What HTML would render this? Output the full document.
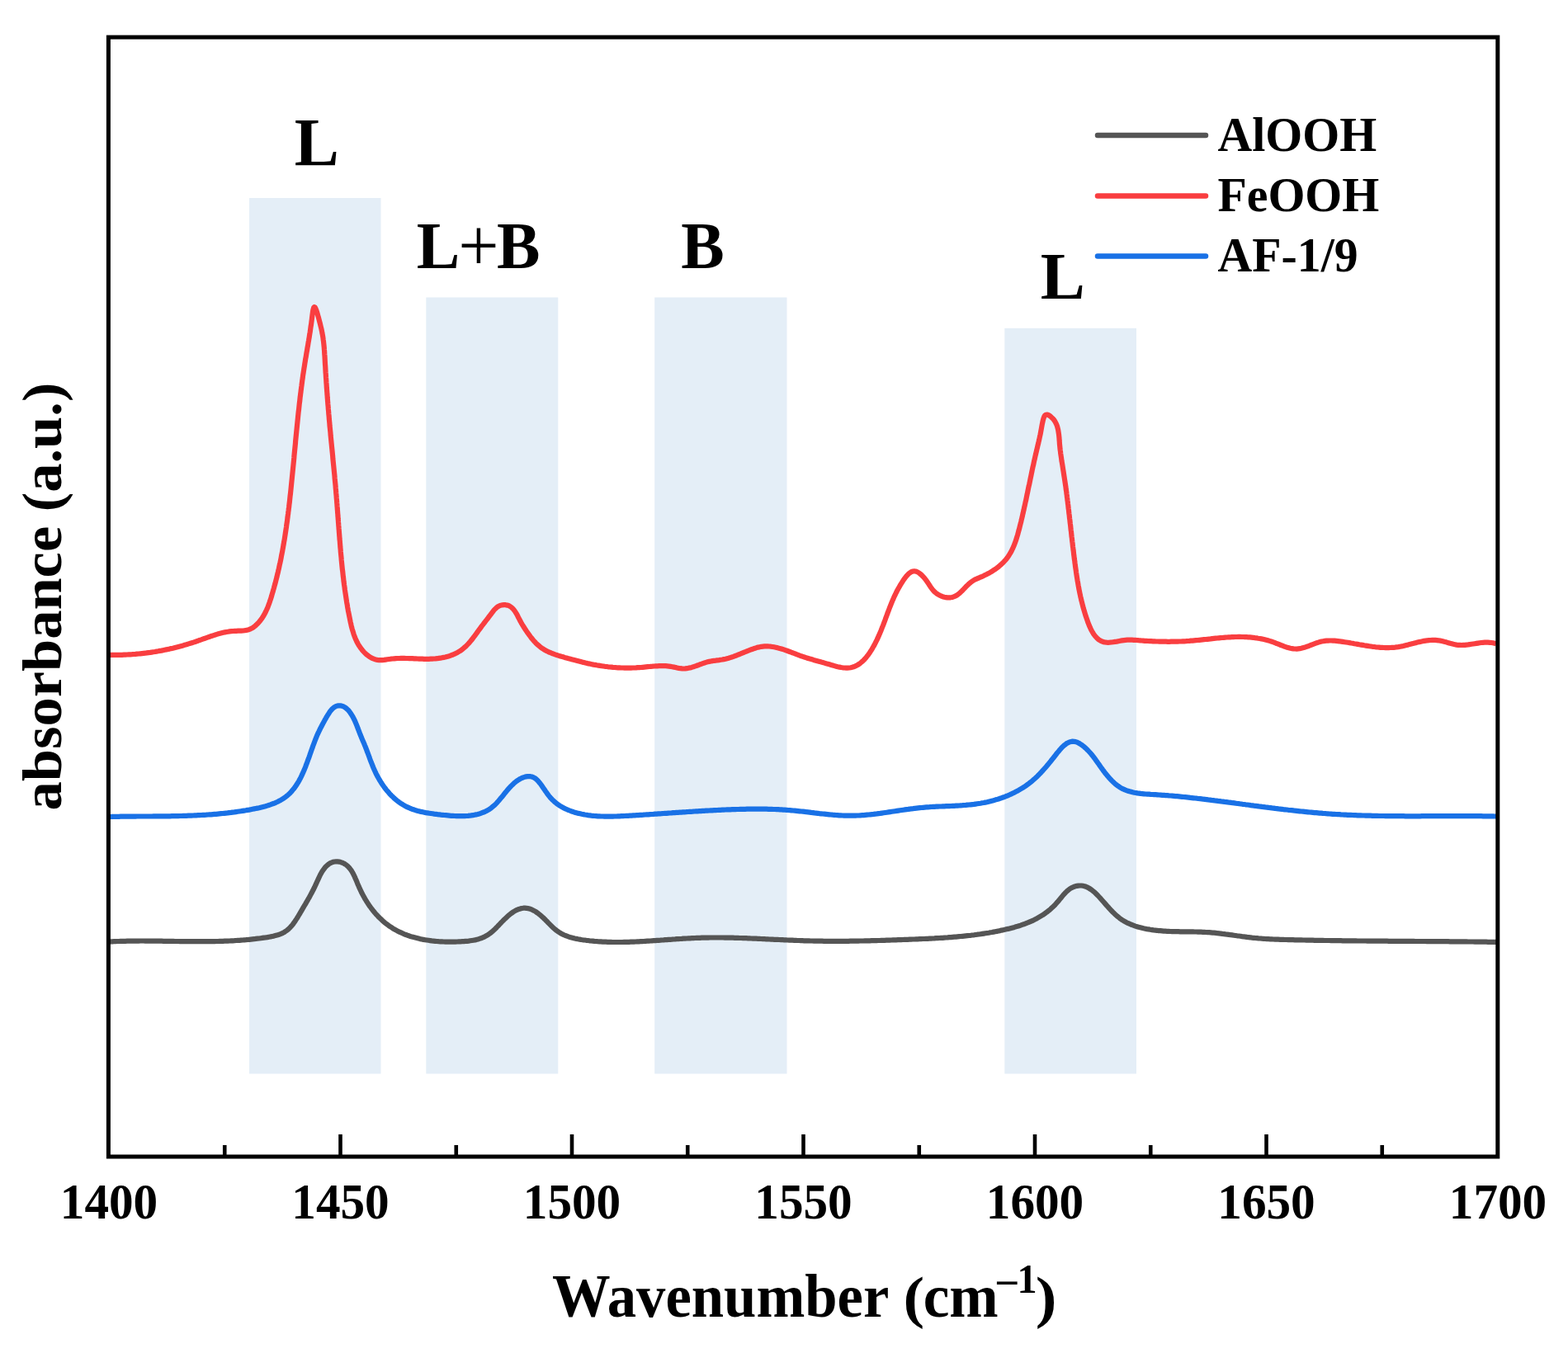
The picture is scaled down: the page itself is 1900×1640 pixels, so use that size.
<!DOCTYPE html>
<html><head><meta charset="utf-8"><title>absorbance vs wavenumber</title>
<style>
html,body{margin:0;padding:0;background:#fff;}
svg{display:block;}
text{font-family:"Liberation Serif","Times New Roman",serif;font-weight:bold;fill:#000;}
</style></head>
<body>
<svg xmlns="http://www.w3.org/2000/svg" width="1900" height="1640" viewBox="0 0 1900 1640">
<rect x="0" y="0" width="1900" height="1640" fill="#fff"/>
<g fill="#E4EEF7">
<rect x="302" y="240" width="159.5" height="1061.5"/>
<rect x="516.3" y="360.5" width="160" height="941"/>
<rect x="793.2" y="360.5" width="160.3" height="941"/>
<rect x="1217.3" y="397.8" width="159.7" height="903.7"/>
</g>
<g fill="none" stroke-width="6.2" stroke-linejoin="round" stroke-linecap="butt">
<path stroke="#555555" d="M132.0,1141.5L134.0,1141.4L136.0,1141.3L138.0,1141.2L140.0,1141.1L142.0,1141.0L144.0,1141.0L146.0,1140.9L148.0,1140.9L150.0,1140.8L152.0,1140.8L154.0,1140.7L156.0,1140.7L158.0,1140.6L160.0,1140.6L162.0,1140.6L164.0,1140.6L166.0,1140.6L168.0,1140.6L170.0,1140.5L172.0,1140.5L174.0,1140.5L176.0,1140.6L178.0,1140.6L180.0,1140.6L182.0,1140.6L184.0,1140.6L186.0,1140.6L188.0,1140.6L190.0,1140.7L192.0,1140.7L194.0,1140.7L196.0,1140.7L198.0,1140.8L200.0,1140.8L202.0,1140.8L204.0,1140.9L206.0,1140.9L208.0,1140.9L210.0,1140.9L212.0,1141.0L214.0,1141.0L216.0,1141.0L218.0,1141.1L220.1,1141.1L222.1,1141.1L224.1,1141.1L226.1,1141.2L228.1,1141.2L230.1,1141.2L232.1,1141.2L234.1,1141.2L236.1,1141.2L238.1,1141.2L240.1,1141.2L242.1,1141.2L244.1,1141.2L246.1,1141.2L248.1,1141.2L250.1,1141.2L252.1,1141.2L254.1,1141.2L256.1,1141.1L258.1,1141.1L260.1,1141.1L262.1,1141.0L264.1,1141.0L266.1,1140.9L268.1,1140.9L270.1,1140.8L272.1,1140.7L274.1,1140.7L276.1,1140.6L278.1,1140.5L280.1,1140.4L282.1,1140.3L284.1,1140.2L286.1,1140.0L288.1,1139.9L290.1,1139.8L292.1,1139.6L294.1,1139.5L296.1,1139.3L298.1,1139.2L300.1,1139.0L302.1,1138.8L304.1,1138.6L306.0,1138.4L308.0,1138.2L310.0,1137.9L312.0,1137.7L314.0,1137.5L316.0,1137.2L318.0,1136.9L320.0,1136.6L321.9,1136.4L323.9,1136.1L325.9,1135.7L327.9,1135.4L329.8,1135.0L331.8,1134.6L333.7,1134.1L335.6,1133.6L337.4,1133.0L339.3,1132.3L341.0,1131.6L342.8,1130.8L344.5,1129.9L346.1,1128.8L347.7,1127.7L349.2,1126.5L350.6,1125.1L352.0,1123.7L353.4,1122.2L354.7,1120.6L355.9,1118.9L357.2,1117.2L358.3,1115.4L359.5,1113.6L360.6,1111.8L361.7,1110.0L362.8,1108.2L363.8,1106.4L364.9,1104.6L365.9,1102.9L366.9,1101.1L367.9,1099.4L368.9,1097.7L369.9,1096.1L370.9,1094.4L371.8,1092.8L372.8,1091.1L373.7,1089.4L374.7,1087.8L375.6,1086.1L376.5,1084.4L377.4,1082.7L378.3,1081.0L379.2,1079.3L380.1,1077.5L381.0,1075.7L381.8,1073.9L382.7,1072.1L383.5,1070.2L384.4,1068.2L385.3,1066.3L386.2,1064.4L387.1,1062.4L388.0,1060.5L389.0,1058.7L390.1,1056.8L391.2,1055.1L392.5,1053.4L393.7,1051.7L395.1,1050.2L396.6,1048.8L398.2,1047.5L399.8,1046.4L401.6,1045.6L403.4,1044.9L405.3,1044.5L407.2,1044.3L409.1,1044.4L411.0,1044.6L412.9,1045.1L414.7,1045.7L416.5,1046.5L418.2,1047.5L419.7,1048.5L421.2,1049.8L422.5,1051.1L423.8,1052.6L425.0,1054.1L426.1,1055.8L427.1,1057.5L428.1,1059.3L429.0,1061.1L429.9,1063.0L430.7,1065.0L431.6,1066.9L432.4,1068.9L433.2,1070.9L434.1,1072.9L434.9,1074.9L435.8,1076.8L436.7,1078.8L437.6,1080.7L438.5,1082.6L439.5,1084.4L440.5,1086.3L441.5,1088.1L442.5,1089.9L443.6,1091.6L444.7,1093.4L445.8,1095.1L446.9,1096.8L448.0,1098.4L449.2,1100.0L450.4,1101.6L451.6,1103.2L452.9,1104.8L454.1,1106.3L455.4,1107.8L456.7,1109.2L458.1,1110.7L459.4,1112.0L460.8,1113.4L462.3,1114.7L463.7,1116.1L465.1,1117.3L466.6,1118.6L468.1,1119.8L469.7,1120.9L471.2,1122.1L472.8,1123.2L474.4,1124.2L476.1,1125.3L477.7,1126.3L479.4,1127.2L481.1,1128.2L482.8,1129.1L484.6,1129.9L486.4,1130.7L488.2,1131.5L490.0,1132.3L491.8,1133.0L493.7,1133.7L495.5,1134.3L497.4,1135.0L499.3,1135.6L501.3,1136.1L503.2,1136.6L505.2,1137.1L507.1,1137.6L509.1,1138.1L511.1,1138.5L513.1,1138.9L515.1,1139.2L517.1,1139.5L519.1,1139.8L521.2,1140.1L523.2,1140.4L525.3,1140.6L527.3,1140.8L529.4,1141.0L531.4,1141.2L533.5,1141.3L535.5,1141.4L537.6,1141.5L539.6,1141.6L541.7,1141.6L543.7,1141.6L545.8,1141.7L547.8,1141.7L549.9,1141.6L551.9,1141.6L553.9,1141.5L556.0,1141.4L558.0,1141.3L560.0,1141.2L562.0,1141.1L563.9,1140.9L565.9,1140.8L567.9,1140.6L569.8,1140.3L571.7,1140.0L573.6,1139.7L575.5,1139.4L577.3,1138.9L579.2,1138.5L581.0,1137.9L582.8,1137.3L584.5,1136.6L586.2,1135.9L587.9,1135.0L589.6,1134.1L591.2,1133.1L592.8,1132.0L594.4,1130.9L595.9,1129.6L597.4,1128.3L598.9,1126.9L600.4,1125.5L601.9,1124.0L603.3,1122.5L604.8,1121.0L606.3,1119.4L607.7,1117.9L609.2,1116.4L610.7,1114.8L612.2,1113.4L613.8,1111.9L615.3,1110.5L616.9,1109.1L618.5,1107.8L620.2,1106.6L621.9,1105.4L623.6,1104.4L625.3,1103.4L627.1,1102.6L628.8,1101.9L630.6,1101.4L632.4,1101.0L634.3,1100.7L636.1,1100.6L637.9,1100.8L639.8,1101.1L641.6,1101.5L643.5,1102.2L645.3,1103.0L647.1,1103.9L648.9,1104.9L650.6,1106.1L652.3,1107.3L653.9,1108.6L655.5,1109.9L657.0,1111.3L658.6,1112.7L660.1,1114.2L661.5,1115.7L663.0,1117.1L664.4,1118.6L665.9,1120.1L667.4,1121.6L668.8,1123.0L670.3,1124.4L671.8,1125.8L673.3,1127.0L674.9,1128.3L676.5,1129.4L678.2,1130.5L679.9,1131.5L681.6,1132.4L683.3,1133.2L685.1,1134.0L687.0,1134.7L688.8,1135.4L690.7,1136.0L692.6,1136.5L694.5,1137.0L696.5,1137.5L698.4,1137.9L700.4,1138.3L702.3,1138.6L704.3,1139.0L706.3,1139.3L708.3,1139.5L710.3,1139.8L712.3,1140.0L714.3,1140.3L716.3,1140.5L718.3,1140.7L720.3,1140.9L722.2,1141.0L724.2,1141.2L726.2,1141.3L728.2,1141.4L730.2,1141.6L732.2,1141.7L734.2,1141.7L736.2,1141.8L738.2,1141.9L740.2,1141.9L742.2,1142.0L744.2,1142.0L746.2,1142.0L748.2,1142.0L750.2,1142.0L752.2,1142.0L754.2,1142.0L756.2,1141.9L758.2,1141.9L760.2,1141.8L762.2,1141.8L764.1,1141.7L766.1,1141.6L768.1,1141.6L770.1,1141.5L772.1,1141.4L774.1,1141.3L776.1,1141.2L778.1,1141.1L780.1,1141.0L782.1,1140.8L784.1,1140.7L786.1,1140.6L788.1,1140.5L790.1,1140.3L792.1,1140.2L794.1,1140.1L796.1,1139.9L798.1,1139.8L800.1,1139.7L802.1,1139.5L804.1,1139.4L806.1,1139.2L808.1,1139.1L810.1,1138.9L812.1,1138.8L814.1,1138.7L816.1,1138.5L818.1,1138.4L820.1,1138.2L822.1,1138.1L824.1,1138.0L826.1,1137.9L828.2,1137.7L830.2,1137.6L832.2,1137.5L834.2,1137.4L836.2,1137.3L838.2,1137.2L840.2,1137.1L842.2,1137.0L844.2,1136.9L846.2,1136.9L848.2,1136.8L850.2,1136.7L852.2,1136.7L854.2,1136.6L856.2,1136.6L858.2,1136.6L860.2,1136.5L862.2,1136.5L864.2,1136.5L866.2,1136.5L868.2,1136.5L870.2,1136.5L872.2,1136.5L874.2,1136.5L876.2,1136.5L878.2,1136.6L880.2,1136.6L882.2,1136.6L884.2,1136.7L886.2,1136.7L888.2,1136.7L890.2,1136.8L892.3,1136.9L894.3,1136.9L896.3,1137.0L898.3,1137.0L900.3,1137.1L902.3,1137.2L904.3,1137.2L906.3,1137.3L908.3,1137.4L910.3,1137.5L912.3,1137.6L914.3,1137.6L916.3,1137.7L918.3,1137.8L920.3,1137.9L922.3,1138.0L924.3,1138.1L926.3,1138.2L928.3,1138.3L930.3,1138.4L932.3,1138.5L934.3,1138.6L936.3,1138.7L938.3,1138.8L940.3,1138.8L942.3,1138.9L944.3,1139.0L946.3,1139.1L948.3,1139.2L950.3,1139.3L952.3,1139.4L954.3,1139.5L956.3,1139.6L958.3,1139.7L960.3,1139.7L962.3,1139.8L964.3,1139.9L966.3,1140.0L968.3,1140.0L970.3,1140.1L972.3,1140.2L974.3,1140.3L976.3,1140.3L978.3,1140.4L980.2,1140.4L982.2,1140.5L984.2,1140.5L986.2,1140.6L988.2,1140.6L990.2,1140.6L992.2,1140.7L994.2,1140.7L996.2,1140.7L998.2,1140.8L1000.2,1140.8L1002.2,1140.8L1004.2,1140.8L1006.2,1140.8L1008.1,1140.8L1010.1,1140.8L1012.1,1140.8L1014.1,1140.8L1016.1,1140.8L1018.1,1140.8L1020.1,1140.8L1022.1,1140.8L1024.1,1140.8L1026.1,1140.8L1028.1,1140.8L1030.1,1140.7L1032.1,1140.7L1034.0,1140.7L1036.0,1140.7L1038.0,1140.6L1040.0,1140.6L1042.0,1140.5L1044.0,1140.5L1046.0,1140.5L1048.0,1140.4L1050.0,1140.4L1052.0,1140.3L1054.0,1140.3L1056.0,1140.2L1058.0,1140.2L1060.0,1140.1L1062.0,1140.1L1064.0,1140.0L1066.0,1140.0L1068.0,1139.9L1070.0,1139.8L1072.0,1139.8L1074.0,1139.7L1076.0,1139.7L1078.0,1139.6L1080.0,1139.5L1082.0,1139.4L1084.0,1139.4L1086.0,1139.3L1088.0,1139.2L1090.0,1139.2L1092.0,1139.1L1094.0,1139.0L1096.0,1138.9L1098.0,1138.9L1100.0,1138.8L1102.0,1138.7L1104.0,1138.6L1106.0,1138.5L1108.0,1138.5L1110.1,1138.4L1112.1,1138.3L1114.1,1138.2L1116.1,1138.1L1118.1,1138.0L1120.1,1138.0L1122.1,1137.9L1124.1,1137.8L1126.2,1137.7L1128.2,1137.6L1130.2,1137.5L1132.2,1137.4L1134.2,1137.2L1136.2,1137.1L1138.2,1137.0L1140.2,1136.9L1142.3,1136.8L1144.3,1136.6L1146.3,1136.5L1148.3,1136.4L1150.3,1136.2L1152.3,1136.1L1154.3,1135.9L1156.3,1135.7L1158.3,1135.6L1160.3,1135.4L1162.3,1135.2L1164.3,1135.0L1166.3,1134.8L1168.3,1134.6L1170.3,1134.4L1172.3,1134.2L1174.3,1134.0L1176.3,1133.8L1178.3,1133.5L1180.3,1133.3L1182.3,1133.0L1184.3,1132.7L1186.2,1132.5L1188.2,1132.2L1190.2,1131.9L1192.2,1131.6L1194.1,1131.3L1196.1,1131.0L1198.1,1130.7L1200.1,1130.3L1202.0,1130.0L1204.0,1129.6L1205.9,1129.2L1207.9,1128.9L1209.8,1128.5L1211.8,1128.1L1213.7,1127.6L1215.7,1127.2L1217.6,1126.8L1219.6,1126.3L1221.5,1125.9L1223.4,1125.4L1225.3,1124.9L1227.3,1124.4L1229.2,1123.9L1231.1,1123.3L1233.0,1122.8L1234.9,1122.2L1236.7,1121.6L1238.6,1120.9L1240.5,1120.3L1242.3,1119.6L1244.1,1118.9L1246.0,1118.2L1247.8,1117.4L1249.6,1116.6L1251.4,1115.8L1253.1,1115.0L1254.9,1114.1L1256.6,1113.2L1258.3,1112.2L1260.0,1111.2L1261.7,1110.2L1263.4,1109.2L1265.0,1108.1L1266.6,1106.9L1268.2,1105.8L1269.8,1104.5L1271.4,1103.3L1272.9,1102.0L1274.4,1100.6L1275.9,1099.2L1277.4,1097.8L1278.8,1096.3L1280.2,1094.7L1281.6,1093.2L1283.0,1091.5L1284.3,1089.9L1285.7,1088.2L1287.0,1086.6L1288.4,1084.9L1289.8,1083.4L1291.2,1081.9L1292.7,1080.4L1294.2,1079.1L1295.8,1077.8L1297.4,1076.7L1299.2,1075.8L1301.0,1075.0L1302.8,1074.3L1304.8,1073.9L1306.7,1073.6L1308.6,1073.5L1310.5,1073.5L1312.4,1073.8L1314.2,1074.2L1316.0,1074.8L1317.7,1075.6L1319.4,1076.5L1321.0,1077.5L1322.7,1078.6L1324.2,1079.8L1325.8,1081.1L1327.3,1082.5L1328.8,1084.0L1330.3,1085.5L1331.7,1087.0L1333.2,1088.6L1334.6,1090.2L1335.9,1091.7L1337.3,1093.3L1338.7,1094.9L1340.0,1096.4L1341.3,1097.9L1342.7,1099.4L1344.0,1100.9L1345.4,1102.4L1346.7,1103.8L1348.1,1105.2L1349.5,1106.6L1350.9,1107.9L1352.3,1109.2L1353.7,1110.5L1355.2,1111.7L1356.7,1112.9L1358.2,1114.0L1359.8,1115.1L1361.5,1116.1L1363.1,1117.1L1364.8,1118.0L1366.6,1118.9L1368.4,1119.7L1370.2,1120.5L1372.0,1121.2L1373.9,1121.9L1375.8,1122.6L1377.8,1123.2L1379.7,1123.8L1381.7,1124.3L1383.7,1124.8L1385.7,1125.3L1387.7,1125.7L1389.8,1126.1L1391.8,1126.4L1393.8,1126.8L1395.9,1127.1L1397.9,1127.4L1400.0,1127.6L1402.0,1127.8L1404.0,1128.1L1406.0,1128.2L1408.1,1128.4L1410.1,1128.6L1412.1,1128.7L1414.1,1128.8L1416.1,1128.9L1418.1,1129.0L1420.1,1129.1L1422.0,1129.1L1424.0,1129.2L1426.0,1129.2L1428.0,1129.2L1430.0,1129.3L1431.9,1129.3L1433.9,1129.3L1435.9,1129.3L1437.8,1129.3L1439.8,1129.4L1441.7,1129.4L1443.7,1129.4L1445.7,1129.4L1447.6,1129.5L1449.6,1129.5L1451.6,1129.6L1453.5,1129.6L1455.5,1129.7L1457.4,1129.8L1459.4,1129.9L1461.4,1130.0L1463.3,1130.1L1465.3,1130.2L1467.3,1130.4L1469.3,1130.6L1471.2,1130.7L1473.2,1130.9L1475.2,1131.2L1477.2,1131.4L1479.2,1131.6L1481.2,1131.9L1483.2,1132.1L1485.1,1132.4L1487.1,1132.6L1489.1,1132.9L1491.1,1133.2L1493.1,1133.4L1495.1,1133.7L1497.1,1134.0L1499.1,1134.3L1501.1,1134.5L1503.1,1134.8L1505.1,1135.1L1507.1,1135.3L1509.1,1135.6L1511.1,1135.9L1513.1,1136.1L1515.1,1136.3L1517.1,1136.6L1519.1,1136.8L1521.1,1137.0L1523.1,1137.2L1525.1,1137.4L1527.1,1137.5L1529.1,1137.7L1531.0,1137.8L1533.0,1138.0L1535.0,1138.1L1537.0,1138.2L1539.0,1138.3L1541.0,1138.4L1543.0,1138.5L1545.0,1138.6L1547.0,1138.6L1549.0,1138.7L1551.0,1138.8L1553.0,1138.9L1555.0,1138.9L1557.0,1139.0L1559.0,1139.0L1561.0,1139.1L1562.9,1139.1L1564.9,1139.2L1566.9,1139.2L1568.9,1139.3L1570.9,1139.3L1572.9,1139.4L1574.9,1139.4L1576.9,1139.4L1578.9,1139.5L1580.9,1139.5L1582.9,1139.6L1584.9,1139.6L1586.9,1139.6L1588.9,1139.7L1590.9,1139.7L1592.9,1139.8L1594.9,1139.8L1596.9,1139.8L1598.9,1139.9L1600.9,1139.9L1602.9,1139.9L1604.9,1140.0L1606.9,1140.0L1608.9,1140.0L1610.9,1140.0L1612.9,1140.1L1614.9,1140.1L1616.9,1140.1L1618.9,1140.2L1620.9,1140.2L1622.9,1140.2L1624.9,1140.2L1626.9,1140.3L1628.9,1140.3L1630.9,1140.3L1632.9,1140.3L1634.9,1140.4L1636.9,1140.4L1638.9,1140.4L1640.9,1140.4L1642.9,1140.4L1644.9,1140.5L1646.9,1140.5L1648.9,1140.5L1650.9,1140.5L1652.9,1140.5L1654.9,1140.5L1656.9,1140.6L1658.9,1140.6L1660.9,1140.6L1662.9,1140.6L1664.9,1140.6L1666.9,1140.6L1668.9,1140.7L1670.9,1140.7L1672.9,1140.7L1674.9,1140.7L1676.9,1140.7L1678.9,1140.7L1680.9,1140.7L1682.9,1140.8L1684.9,1140.8L1686.9,1140.8L1688.9,1140.8L1690.9,1140.8L1692.9,1140.8L1694.9,1140.8L1696.9,1140.8L1698.9,1140.9L1700.9,1140.9L1702.9,1140.9L1704.9,1140.9L1706.9,1140.9L1708.9,1140.9L1711.0,1140.9L1713.0,1140.9L1715.0,1141.0L1717.0,1141.0L1719.0,1141.0L1721.0,1141.0L1723.0,1141.0L1725.0,1141.0L1727.0,1141.0L1729.0,1141.1L1731.0,1141.1L1733.0,1141.1L1735.0,1141.1L1737.0,1141.1L1739.0,1141.1L1741.0,1141.1L1743.0,1141.1L1745.0,1141.2L1747.0,1141.2L1749.0,1141.2L1751.0,1141.2L1753.0,1141.2L1755.0,1141.2L1757.0,1141.3L1759.0,1141.3L1761.0,1141.3L1763.0,1141.3L1765.0,1141.3L1767.0,1141.3L1769.0,1141.4L1771.0,1141.4L1773.0,1141.4L1775.0,1141.4L1777.0,1141.4L1779.0,1141.5L1781.0,1141.5L1783.0,1141.5L1785.0,1141.5L1787.0,1141.6L1789.0,1141.6L1791.0,1141.6L1793.0,1141.6L1795.0,1141.6L1797.0,1141.7L1799.0,1141.7L1801.0,1141.7L1803.0,1141.8L1805.0,1141.8L1807.0,1141.8L1809.0,1141.8L1811.0,1141.9L1813.0,1141.9"/>
<path stroke="#1971E6" d="M132.0,990.0L134.0,990.0L136.0,989.9L138.0,989.9L140.1,989.8L142.1,989.8L144.1,989.8L146.1,989.7L148.1,989.7L150.1,989.7L152.1,989.7L154.1,989.6L156.1,989.6L158.1,989.6L160.1,989.6L162.1,989.6L164.1,989.6L166.1,989.5L168.1,989.5L170.1,989.5L172.1,989.5L174.1,989.5L176.1,989.5L178.1,989.5L180.1,989.5L182.1,989.5L184.1,989.5L186.1,989.4L188.1,989.4L190.1,989.4L192.1,989.4L194.1,989.4L196.1,989.4L198.1,989.4L200.1,989.3L202.1,989.3L204.1,989.3L206.1,989.3L208.1,989.2L210.1,989.2L212.0,989.2L214.0,989.1L216.0,989.1L218.0,989.0L220.0,989.0L222.0,988.9L224.0,988.9L226.0,988.8L228.0,988.7L230.0,988.7L232.0,988.6L233.9,988.5L235.9,988.4L237.9,988.3L239.9,988.2L241.9,988.1L243.9,988.0L245.9,987.9L247.9,987.8L249.9,987.7L251.9,987.5L253.9,987.4L255.9,987.3L257.9,987.1L259.9,986.9L261.9,986.8L263.9,986.6L265.8,986.4L267.8,986.2L269.8,986.0L271.8,985.8L273.8,985.6L275.8,985.4L277.8,985.1L279.8,984.9L281.8,984.6L283.9,984.4L285.9,984.1L287.9,983.8L289.9,983.5L291.9,983.2L293.9,982.9L295.9,982.6L297.9,982.3L299.9,981.9L301.9,981.6L303.9,981.2L305.9,980.8L308.0,980.4L310.0,980.0L312.0,979.6L314.0,979.2L315.9,978.7L317.9,978.2L319.9,977.7L321.8,977.2L323.8,976.6L325.7,976.0L327.6,975.4L329.4,974.7L331.3,974.0L333.1,973.3L334.9,972.5L336.6,971.7L338.3,970.8L340.0,969.9L341.7,968.9L343.3,967.9L344.9,966.8L346.4,965.7L347.9,964.5L349.3,963.3L350.7,962.0L352.0,960.7L353.3,959.3L354.5,957.8L355.8,956.3L356.9,954.8L358.1,953.2L359.2,951.6L360.2,949.9L361.3,948.2L362.3,946.5L363.2,944.7L364.2,942.9L365.1,941.1L366.0,939.2L366.8,937.3L367.7,935.4L368.5,933.5L369.3,931.6L370.1,929.6L370.8,927.7L371.6,925.7L372.3,923.8L373.0,921.8L373.7,919.8L374.5,917.8L375.2,915.8L375.8,913.9L376.5,911.9L377.2,909.9L377.9,908.0L378.6,906.1L379.3,904.1L380.0,902.2L380.7,900.4L381.4,898.5L382.1,896.7L382.8,894.9L383.5,893.1L384.2,891.3L385.0,889.6L385.8,887.9L386.6,886.3L387.4,884.6L388.2,882.9L389.1,881.2L390.0,879.5L390.9,877.8L391.8,876.1L392.8,874.3L393.8,872.4L394.9,870.6L396.0,868.6L397.2,866.7L398.4,864.8L399.6,862.9L400.9,861.2L402.3,859.6L403.8,858.2L405.3,857.1L406.9,856.2L408.6,855.6L410.3,855.3L412.1,855.3L413.9,855.6L415.6,856.2L417.4,857.0L419.0,858.1L420.5,859.4L422.0,860.8L423.4,862.5L424.6,864.2L425.8,866.0L426.9,867.8L427.9,869.6L428.9,871.5L429.8,873.3L430.6,875.2L431.4,877.1L432.2,879.0L432.9,880.9L433.6,882.8L434.4,884.7L435.1,886.6L435.8,888.5L436.5,890.3L437.3,892.2L438.0,894.0L438.8,895.9L439.6,897.7L440.4,899.5L441.2,901.4L441.9,903.2L442.7,905.0L443.4,906.9L444.1,908.7L444.8,910.6L445.5,912.4L446.2,914.3L446.9,916.1L447.6,918.0L448.2,919.8L448.9,921.7L449.6,923.5L450.4,925.4L451.1,927.2L451.8,929.1L452.6,930.9L453.4,932.7L454.2,934.5L455.1,936.4L455.9,938.2L456.9,940.0L457.8,941.8L458.8,943.5L459.8,945.3L460.9,947.0L462.0,948.8L463.1,950.5L464.3,952.2L465.4,953.8L466.7,955.5L467.9,957.1L469.2,958.7L470.6,960.2L471.9,961.8L473.3,963.3L474.7,964.7L476.2,966.1L477.6,967.5L479.2,968.8L480.7,970.1L482.2,971.3L483.8,972.5L485.4,973.6L487.1,974.7L488.7,975.7L490.4,976.7L492.1,977.6L493.8,978.4L495.6,979.2L497.4,980.0L499.2,980.7L501.0,981.3L502.8,981.9L504.7,982.5L506.5,983.0L508.4,983.4L510.3,983.9L512.2,984.3L514.2,984.7L516.1,985.1L518.1,985.4L520.1,985.7L522.1,986.0L524.1,986.3L526.1,986.6L528.1,986.8L530.2,987.1L532.2,987.3L534.3,987.6L536.3,987.8L538.4,988.0L540.5,988.2L542.6,988.4L544.6,988.6L546.7,988.8L548.8,988.9L550.9,989.0L553.0,989.1L555.0,989.2L557.1,989.2L559.1,989.2L561.2,989.2L563.2,989.1L565.2,989.0L567.2,988.9L569.2,988.7L571.2,988.4L573.1,988.2L575.0,987.8L576.9,987.4L578.8,987.0L580.6,986.5L582.5,985.9L584.2,985.2L586.0,984.5L587.7,983.8L589.4,982.9L591.1,982.0L592.7,981.1L594.3,980.0L595.8,978.8L597.4,977.6L598.8,976.3L600.3,975.0L601.7,973.5L603.0,972.0L604.4,970.5L605.7,968.9L607.0,967.3L608.4,965.7L609.7,964.1L611.0,962.4L612.3,960.8L613.7,959.1L615.0,957.5L616.4,955.9L617.8,954.4L619.2,952.9L620.7,951.4L622.2,950.0L623.7,948.6L625.3,947.3L627.0,946.1L628.7,945.0L630.4,944.0L632.2,943.2L634.0,942.4L635.7,941.8L637.5,941.4L639.3,941.1L641.1,941.0L642.8,941.2L644.4,941.5L646.0,942.1L647.6,942.9L649.1,943.9L650.5,945.1L651.9,946.5L653.2,948.1L654.6,949.7L655.9,951.5L657.1,953.3L658.4,955.2L659.7,957.1L661.0,959.0L662.3,960.8L663.6,962.7L664.9,964.4L666.3,966.1L667.7,967.7L669.1,969.2L670.6,970.6L672.1,972.0L673.6,973.2L675.2,974.4L676.7,975.5L678.3,976.6L680.0,977.6L681.6,978.5L683.3,979.4L685.0,980.3L686.7,981.0L688.5,981.8L690.2,982.5L692.0,983.2L693.8,983.8L695.6,984.4L697.4,984.9L699.3,985.4L701.1,985.9L703.0,986.3L704.9,986.8L706.8,987.1L708.7,987.5L710.6,987.8L712.5,988.1L714.5,988.3L716.4,988.6L718.4,988.8L720.4,989.0L722.4,989.1L724.4,989.3L726.4,989.4L728.4,989.5L730.4,989.5L732.4,989.6L734.5,989.6L736.5,989.6L738.6,989.6L740.6,989.6L742.7,989.6L744.7,989.5L746.8,989.5L748.8,989.4L750.9,989.3L752.9,989.2L755.0,989.1L757.1,989.0L759.1,988.9L761.2,988.8L763.2,988.7L765.3,988.6L767.3,988.4L769.4,988.3L771.4,988.2L773.5,988.1L775.5,987.9L777.5,987.8L779.6,987.7L781.6,987.5L783.6,987.4L785.7,987.3L787.7,987.1L789.7,987.0L791.7,986.9L793.7,986.7L795.7,986.6L797.7,986.4L799.7,986.3L801.7,986.2L803.7,986.0L805.7,985.9L807.7,985.8L809.7,985.6L811.7,985.5L813.7,985.4L815.7,985.2L817.6,985.1L819.6,984.9L821.6,984.8L823.6,984.7L825.6,984.6L827.6,984.4L829.5,984.3L831.5,984.2L833.5,984.0L835.5,983.9L837.4,983.8L839.4,983.7L841.4,983.5L843.4,983.4L845.3,983.3L847.3,983.2L849.3,983.1L851.3,982.9L853.2,982.8L855.2,982.7L857.2,982.6L859.2,982.5L861.2,982.4L863.1,982.3L865.1,982.2L867.1,982.1L869.1,982.0L871.1,981.9L873.0,981.8L875.0,981.7L877.0,981.6L879.0,981.5L881.0,981.4L883.0,981.4L885.0,981.3L887.0,981.2L889.0,981.1L891.0,981.1L893.0,981.0L895.0,981.0L897.0,980.9L899.0,980.8L901.0,980.8L903.0,980.8L905.0,980.7L907.0,980.7L909.0,980.7L911.0,980.6L913.0,980.6L915.0,980.6L917.0,980.6L919.0,980.6L921.0,980.6L923.0,980.7L925.0,980.7L927.0,980.7L929.0,980.7L931.1,980.8L933.1,980.8L935.1,980.9L937.1,981.0L939.1,981.0L941.1,981.1L943.1,981.2L945.1,981.3L947.1,981.4L949.1,981.6L951.1,981.7L953.1,981.8L955.1,982.0L957.1,982.1L959.1,982.3L961.1,982.5L963.1,982.7L965.1,982.9L967.1,983.1L969.1,983.3L971.1,983.5L973.1,983.7L975.1,983.9L977.1,984.2L979.1,984.4L981.1,984.6L983.0,984.9L985.0,985.1L987.0,985.4L989.0,985.6L991.0,985.8L993.0,986.1L995.0,986.3L997.0,986.5L998.9,986.7L1000.9,986.9L1002.9,987.1L1004.9,987.3L1006.9,987.5L1008.9,987.7L1010.9,987.8L1012.8,988.0L1014.8,988.1L1016.8,988.3L1018.8,988.4L1020.8,988.5L1022.8,988.6L1024.8,988.6L1026.7,988.7L1028.7,988.7L1030.7,988.7L1032.7,988.7L1034.7,988.7L1036.7,988.6L1038.7,988.5L1040.7,988.5L1042.7,988.3L1044.7,988.2L1046.7,988.1L1048.6,987.9L1050.6,987.7L1052.6,987.5L1054.6,987.3L1056.6,987.1L1058.6,986.9L1060.6,986.6L1062.6,986.4L1064.6,986.1L1066.6,985.9L1068.6,985.6L1070.6,985.3L1072.6,985.0L1074.6,984.7L1076.6,984.4L1078.6,984.1L1080.6,983.8L1082.6,983.5L1084.6,983.2L1086.6,982.9L1088.6,982.6L1090.6,982.3L1092.6,982.0L1094.6,981.7L1096.6,981.4L1098.6,981.1L1100.5,980.9L1102.5,980.6L1104.5,980.3L1106.5,980.1L1108.5,979.8L1110.5,979.6L1112.5,979.4L1114.5,979.2L1116.5,979.0L1118.5,978.8L1120.5,978.6L1122.5,978.4L1124.5,978.3L1126.5,978.2L1128.5,978.0L1130.5,977.9L1132.5,977.8L1134.5,977.7L1136.4,977.6L1138.4,977.5L1140.4,977.5L1142.4,977.4L1144.4,977.3L1146.4,977.2L1148.4,977.1L1150.4,977.1L1152.4,977.0L1154.4,976.9L1156.3,976.8L1158.3,976.7L1160.3,976.6L1162.3,976.5L1164.3,976.3L1166.3,976.2L1168.3,976.0L1170.2,975.9L1172.2,975.7L1174.2,975.5L1176.2,975.3L1178.2,975.1L1180.2,974.9L1182.1,974.6L1184.1,974.3L1186.1,974.0L1188.1,973.7L1190.1,973.3L1192.1,973.0L1194.0,972.6L1196.0,972.2L1198.0,971.7L1200.0,971.2L1201.9,970.7L1203.9,970.2L1205.9,969.6L1207.8,969.1L1209.8,968.5L1211.7,967.8L1213.6,967.2L1215.5,966.5L1217.4,965.8L1219.3,965.0L1221.2,964.3L1223.1,963.5L1224.9,962.7L1226.7,961.8L1228.5,960.9L1230.3,960.0L1232.1,959.1L1233.8,958.2L1235.5,957.2L1237.2,956.2L1238.9,955.2L1240.5,954.1L1242.2,953.1L1243.7,952.0L1245.3,950.8L1246.8,949.7L1248.3,948.5L1249.8,947.3L1251.3,946.1L1252.7,944.8L1254.2,943.5L1255.6,942.2L1257.0,940.9L1258.4,939.5L1259.7,938.1L1261.1,936.7L1262.4,935.2L1263.8,933.8L1265.1,932.3L1266.5,930.7L1267.8,929.2L1269.1,927.6L1270.5,926.0L1271.8,924.4L1273.2,922.7L1274.5,921.0L1275.9,919.3L1277.3,917.5L1278.6,915.8L1280.0,914.0L1281.4,912.2L1282.9,910.5L1284.3,908.8L1285.7,907.2L1287.2,905.6L1288.7,904.2L1290.2,902.9L1291.8,901.7L1293.3,900.7L1294.9,899.9L1296.5,899.3L1298.2,898.9L1299.8,898.7L1301.5,898.8L1303.3,899.1L1305.0,899.7L1306.8,900.5L1308.5,901.5L1310.2,902.6L1311.9,903.8L1313.6,905.2L1315.2,906.6L1316.7,908.0L1318.2,909.5L1319.6,911.0L1321.0,912.5L1322.3,914.0L1323.5,915.5L1324.8,917.1L1325.9,918.6L1327.1,920.2L1328.2,921.8L1329.4,923.4L1330.5,925.0L1331.7,926.6L1332.8,928.3L1334.0,930.0L1335.2,931.6L1336.4,933.3L1337.7,935.0L1338.9,936.7L1340.2,938.3L1341.5,939.9L1342.9,941.5L1344.3,943.1L1345.7,944.6L1347.1,946.1L1348.6,947.6L1350.1,949.0L1351.6,950.3L1353.1,951.5L1354.7,952.7L1356.4,953.8L1358.0,954.8L1359.7,955.8L1361.5,956.6L1363.2,957.4L1365.0,958.1L1366.8,958.7L1368.7,959.3L1370.6,959.8L1372.4,960.3L1374.4,960.7L1376.3,961.0L1378.2,961.4L1380.2,961.6L1382.2,961.9L1384.2,962.1L1386.2,962.3L1388.2,962.5L1390.2,962.6L1392.2,962.7L1394.2,962.9L1396.3,963.0L1398.3,963.1L1400.3,963.2L1402.3,963.3L1404.4,963.5L1406.4,963.6L1408.4,963.8L1410.4,963.9L1412.4,964.1L1414.4,964.2L1416.4,964.4L1418.4,964.5L1420.4,964.7L1422.4,964.9L1424.4,965.1L1426.4,965.2L1428.4,965.4L1430.4,965.6L1432.3,965.8L1434.3,966.0L1436.3,966.2L1438.3,966.4L1440.3,966.6L1442.3,966.9L1444.2,967.1L1446.2,967.3L1448.2,967.5L1450.2,967.7L1452.1,968.0L1454.1,968.2L1456.1,968.4L1458.1,968.7L1460.0,968.9L1462.0,969.1L1464.0,969.4L1466.0,969.6L1468.0,969.9L1469.9,970.1L1471.9,970.4L1473.9,970.6L1475.9,970.9L1477.8,971.1L1479.8,971.4L1481.8,971.6L1483.8,971.9L1485.8,972.1L1487.7,972.4L1489.7,972.7L1491.7,972.9L1493.7,973.2L1495.7,973.4L1497.6,973.7L1499.6,974.0L1501.6,974.2L1503.6,974.5L1505.6,974.8L1507.5,975.0L1509.5,975.3L1511.5,975.5L1513.5,975.8L1515.5,976.1L1517.4,976.3L1519.4,976.6L1521.4,976.8L1523.4,977.1L1525.4,977.4L1527.4,977.6L1529.3,977.9L1531.3,978.1L1533.3,978.4L1535.3,978.6L1537.3,978.9L1539.3,979.1L1541.3,979.4L1543.2,979.6L1545.2,979.9L1547.2,980.1L1549.2,980.4L1551.2,980.6L1553.2,980.8L1555.2,981.1L1557.1,981.3L1559.1,981.5L1561.1,981.8L1563.1,982.0L1565.1,982.2L1567.1,982.4L1569.1,982.7L1571.1,982.9L1573.1,983.1L1575.0,983.3L1577.0,983.5L1579.0,983.7L1581.0,983.9L1583.0,984.1L1585.0,984.3L1587.0,984.5L1589.0,984.7L1591.0,984.9L1593.0,985.1L1595.0,985.2L1597.0,985.4L1598.9,985.6L1600.9,985.7L1602.9,985.9L1604.9,986.0L1606.9,986.2L1608.9,986.3L1610.9,986.5L1612.9,986.6L1614.9,986.8L1616.9,986.9L1618.9,987.0L1620.9,987.1L1622.9,987.2L1624.9,987.4L1626.9,987.5L1628.9,987.6L1630.9,987.7L1632.9,987.8L1634.9,987.9L1636.9,987.9L1638.9,988.0L1640.9,988.1L1642.9,988.2L1644.9,988.3L1646.9,988.3L1648.9,988.4L1650.9,988.5L1652.9,988.5L1654.9,988.6L1656.9,988.6L1658.9,988.7L1660.9,988.7L1662.9,988.8L1664.9,988.8L1666.9,988.9L1668.9,988.9L1670.9,989.0L1672.9,989.0L1674.9,989.0L1676.9,989.0L1678.9,989.1L1680.9,989.1L1682.9,989.1L1684.9,989.1L1686.9,989.2L1688.9,989.2L1690.9,989.2L1692.9,989.2L1694.9,989.2L1696.9,989.2L1698.9,989.2L1700.9,989.2L1702.9,989.3L1704.9,989.3L1706.9,989.3L1708.9,989.3L1710.9,989.3L1712.9,989.3L1714.9,989.3L1716.9,989.3L1718.9,989.3L1720.9,989.3L1722.9,989.2L1724.9,989.2L1726.9,989.2L1728.9,989.2L1731.0,989.2L1733.0,989.2L1735.0,989.2L1737.0,989.2L1739.0,989.2L1741.0,989.2L1743.0,989.2L1745.0,989.2L1747.0,989.2L1749.0,989.2L1751.0,989.2L1753.0,989.2L1755.0,989.1L1757.0,989.1L1759.0,989.1L1761.0,989.1L1763.0,989.1L1765.0,989.1L1767.0,989.1L1769.0,989.1L1771.0,989.1L1773.0,989.1L1775.0,989.1L1777.0,989.1L1779.0,989.1L1781.0,989.1L1783.0,989.2L1785.0,989.2L1787.0,989.2L1789.0,989.2L1791.0,989.2L1793.0,989.2L1795.0,989.2L1797.0,989.3L1799.0,989.3L1801.0,989.3L1803.0,989.3L1805.0,989.4L1807.0,989.4L1809.0,989.4L1811.0,989.5L1813.0,989.5"/>
<path stroke="#F93E40" d="M132.0,793.8L134.0,793.8L136.0,793.9L138.0,793.9L140.0,793.9L142.0,793.9L144.0,793.8L146.0,793.8L148.0,793.8L150.0,793.7L152.0,793.6L154.0,793.5L156.0,793.4L158.0,793.3L160.0,793.2L162.0,793.0L164.0,792.9L166.0,792.7L168.0,792.5L170.0,792.3L172.0,792.1L174.0,791.9L175.9,791.7L177.9,791.4L179.9,791.1L181.9,790.9L183.9,790.6L185.8,790.3L187.8,790.0L189.8,789.6L191.8,789.3L193.7,788.9L195.7,788.6L197.6,788.2L199.6,787.8L201.6,787.4L203.5,787.0L205.5,786.6L207.4,786.1L209.4,785.7L211.3,785.2L213.2,784.7L215.2,784.2L217.1,783.7L219.0,783.2L221.0,782.7L222.9,782.1L224.8,781.6L226.7,781.0L228.6,780.4L230.6,779.8L232.5,779.2L234.4,778.6L236.3,778.0L238.2,777.3L240.0,776.7L241.9,776.0L243.8,775.4L245.7,774.7L247.6,774.0L249.5,773.3L251.4,772.6L253.2,772.0L255.1,771.3L257.0,770.7L258.9,770.1L260.8,769.5L262.7,768.9L264.6,768.3L266.6,767.8L268.5,767.3L270.4,766.8L272.4,766.4L274.4,766.0L276.3,765.7L278.3,765.4L280.3,765.2L282.3,765.0L284.4,764.9L286.4,764.8L288.4,764.7L290.5,764.7L292.5,764.6L294.5,764.5L296.5,764.2L298.4,763.9L300.4,763.5L302.2,762.9L304.0,762.1L305.8,761.2L307.4,760.1L309.0,758.8L310.6,757.4L312.0,756.0L313.4,754.6L314.7,753.0L315.9,751.5L317.1,749.9L318.2,748.3L319.2,746.6L320.2,744.9L321.2,743.1L322.0,741.4L322.9,739.5L323.7,737.7L324.5,735.9L325.2,734.0L325.9,732.1L326.6,730.2L327.2,728.3L327.9,726.4L328.5,724.5L329.1,722.5L329.6,720.6L330.2,718.6L330.8,716.7L331.3,714.8L331.9,712.8L332.4,710.9L332.9,709.0L333.5,707.0L334.0,705.1L334.5,703.1L335.0,701.2L335.5,699.3L335.9,697.3L336.4,695.4L336.9,693.4L337.3,691.5L337.8,689.5L338.2,687.6L338.6,685.6L339.0,683.7L339.5,681.7L339.9,679.8L340.3,677.8L340.7,675.9L341.0,673.9L341.4,672.0L341.8,670.0L342.2,668.1L342.5,666.1L342.9,664.2L343.2,662.2L343.6,660.2L343.9,658.3L344.2,656.3L344.6,654.4L344.9,652.4L345.2,650.4L345.5,648.5L345.8,646.5L346.1,644.5L346.4,642.6L346.7,640.6L347.0,638.6L347.2,636.7L347.5,634.7L347.8,632.7L348.1,630.8L348.3,628.8L348.6,626.8L348.8,624.8L349.1,622.9L349.3,620.9L349.6,618.9L349.8,616.9L350.1,614.9L350.3,612.9L350.5,611.0L350.8,609.0L351.0,607.0L351.2,605.0L351.4,603.0L351.6,601.0L351.9,599.0L352.1,597.0L352.3,595.0L352.5,593.0L352.7,591.0L352.9,589.0L353.1,587.0L353.3,585.0L353.5,583.0L353.7,581.0L353.9,579.0L354.1,577.0L354.3,575.0L354.5,573.0L354.7,571.0L354.9,569.0L355.1,567.0L355.3,565.0L355.5,563.0L355.7,561.0L355.9,559.0L356.1,557.0L356.3,555.0L356.4,553.0L356.6,551.0L356.8,548.9L357.0,546.9L357.2,544.9L357.4,542.9L357.6,540.9L357.8,538.9L358.0,536.9L358.1,534.9L358.3,532.9L358.5,530.9L358.7,528.9L358.9,526.9L359.1,524.9L359.3,522.9L359.5,520.9L359.7,518.9L359.9,516.9L360.1,514.9L360.3,512.9L360.5,510.9L360.7,508.9L360.9,506.9L361.1,504.9L361.3,502.9L361.5,500.9L361.7,499.0L362.0,497.0L362.2,495.0L362.4,493.0L362.6,491.0L362.8,489.0L363.1,487.1L363.3,485.1L363.5,483.1L363.7,481.2L364.0,479.2L364.2,477.2L364.5,475.3L364.7,473.3L365.0,471.3L365.2,469.4L365.5,467.4L365.7,465.5L366.0,463.5L366.2,461.6L366.5,459.6L366.8,457.7L367.0,455.7L367.3,453.8L367.6,451.9L367.9,449.9L368.2,448.0L368.5,446.1L368.8,444.2L369.1,442.2L369.4,440.3L369.7,438.4L370.0,436.5L370.3,434.6L370.7,432.7L371.0,430.7L371.3,428.8L371.6,426.9L372.0,425.0L372.3,423.0L372.6,421.0L373.0,419.1L373.3,417.1L373.6,415.1L374.0,413.0L374.3,411.0L374.7,408.9L375.0,406.8L375.3,404.7L375.7,402.5L376.0,400.4L376.3,398.2L376.6,395.9L377.0,393.6L377.3,391.3L377.6,389.0L377.9,386.6L378.2,384.2L378.5,381.7L378.8,379.4L379.1,377.2L379.5,375.2L379.9,373.7L380.3,372.6L380.8,372.1L381.4,372.2L382.0,373.0L382.6,374.3L383.3,376.1L384.0,378.2L384.7,380.5L385.4,383.0L386.1,385.4L386.7,387.8L387.3,390.1L387.9,392.4L388.4,394.5L388.9,396.6L389.4,398.6L389.8,400.5L390.2,402.5L390.5,404.4L390.9,406.2L391.2,408.1L391.5,410.0L391.7,411.9L392.0,413.8L392.2,415.7L392.4,417.6L392.6,419.6L392.8,421.6L392.9,423.5L393.1,425.5L393.2,427.5L393.3,429.5L393.5,431.5L393.6,433.5L393.7,435.6L393.8,437.6L393.9,439.6L394.0,441.6L394.2,443.6L394.3,445.6L394.4,447.6L394.5,449.6L394.6,451.7L394.8,453.7L394.9,455.7L395.0,457.7L395.2,459.7L395.3,461.7L395.4,463.7L395.6,465.7L395.7,467.6L395.8,469.6L396.0,471.6L396.1,473.6L396.3,475.6L396.4,477.6L396.6,479.6L396.7,481.6L396.9,483.6L397.0,485.6L397.2,487.6L397.3,489.5L397.5,491.5L397.7,493.5L397.8,495.5L398.0,497.5L398.2,499.5L398.3,501.5L398.5,503.4L398.7,505.4L398.8,507.4L399.0,509.4L399.2,511.4L399.4,513.4L399.5,515.4L399.7,517.4L399.9,519.3L400.1,521.3L400.3,523.3L400.5,525.3L400.6,527.3L400.8,529.3L401.0,531.3L401.2,533.3L401.4,535.3L401.6,537.3L401.8,539.3L402.0,541.3L402.2,543.3L402.4,545.3L402.6,547.3L402.8,549.3L403.0,551.3L403.2,553.3L403.3,555.3L403.5,557.3L403.7,559.3L403.9,561.3L404.1,563.3L404.3,565.3L404.5,567.3L404.7,569.3L404.9,571.3L405.1,573.3L405.3,575.2L405.5,577.2L405.6,579.2L405.8,581.2L406.0,583.2L406.2,585.2L406.4,587.2L406.6,589.2L406.7,591.2L406.9,593.2L407.1,595.2L407.2,597.2L407.4,599.2L407.6,601.2L407.7,603.2L407.9,605.2L408.1,607.2L408.2,609.2L408.4,611.2L408.5,613.2L408.7,615.1L408.8,617.1L409.0,619.1L409.1,621.1L409.3,623.1L409.4,625.1L409.6,627.1L409.7,629.1L409.9,631.0L410.0,633.0L410.2,635.0L410.3,637.0L410.5,639.0L410.6,641.0L410.8,643.0L410.9,644.9L411.1,646.9L411.2,648.9L411.4,650.9L411.5,652.9L411.7,654.9L411.9,656.8L412.0,658.8L412.2,660.8L412.3,662.8L412.5,664.8L412.7,666.8L412.8,668.7L413.0,670.7L413.2,672.7L413.4,674.7L413.6,676.7L413.7,678.7L413.9,680.6L414.1,682.6L414.3,684.6L414.5,686.6L414.7,688.6L414.9,690.6L415.2,692.5L415.4,694.5L415.6,696.5L415.8,698.5L416.1,700.5L416.3,702.5L416.5,704.5L416.8,706.4L417.0,708.4L417.3,710.4L417.6,712.4L417.8,714.4L418.1,716.4L418.4,718.4L418.7,720.3L419.0,722.3L419.3,724.3L419.6,726.3L419.9,728.3L420.2,730.3L420.6,732.3L420.9,734.3L421.2,736.3L421.6,738.3L421.9,740.3L422.3,742.2L422.7,744.2L423.1,746.2L423.5,748.2L423.9,750.2L424.3,752.2L424.7,754.2L425.2,756.2L425.6,758.2L426.1,760.1L426.6,762.1L427.2,764.0L427.8,765.9L428.4,767.9L429.0,769.7L429.7,771.6L430.4,773.4L431.2,775.2L432.0,777.0L432.9,778.8L433.8,780.5L434.8,782.2L435.9,783.8L437.0,785.4L438.2,787.0L439.4,788.5L440.7,790.0L442.1,791.5L443.6,792.8L445.1,794.1L446.7,795.3L448.3,796.4L450.0,797.4L451.7,798.2L453.5,798.9L455.4,799.5L457.3,799.9L459.2,800.1L461.2,800.2L463.2,800.1L465.3,799.9L467.4,799.6L469.4,799.3L471.5,799.0L473.6,798.7L475.6,798.5L477.7,798.3L479.8,798.1L481.8,798.0L483.8,798.0L485.9,797.9L487.9,797.9L489.9,797.9L491.9,798.0L493.9,798.0L495.9,798.1L497.9,798.1L499.9,798.2L501.9,798.3L503.9,798.4L505.9,798.5L507.9,798.6L509.9,798.7L511.9,798.7L513.9,798.8L515.8,798.8L517.8,798.8L519.8,798.8L521.8,798.7L523.7,798.6L525.7,798.5L527.7,798.4L529.7,798.2L531.7,797.9L533.6,797.7L535.6,797.3L537.6,796.9L539.5,796.5L541.5,796.0L543.4,795.5L545.3,794.9L547.1,794.2L549.0,793.5L550.8,792.7L552.6,791.8L554.3,790.9L556.0,789.9L557.7,788.9L559.3,787.7L560.9,786.5L562.4,785.2L563.9,783.9L565.4,782.5L566.8,781.0L568.1,779.6L569.5,778.0L570.8,776.4L572.1,774.9L573.3,773.2L574.5,771.6L575.8,770.0L577.0,768.3L578.2,766.6L579.3,765.0L580.5,763.4L581.7,761.8L582.9,760.2L584.0,758.6L585.2,757.1L586.4,755.5L587.6,754.0L588.8,752.4L590.0,750.9L591.2,749.3L592.4,747.7L593.6,746.1L594.9,744.5L596.1,742.8L597.4,741.1L598.7,739.4L600.2,737.9L601.7,736.5L603.3,735.3L605.0,734.4L606.9,733.7L608.8,733.3L610.7,733.1L612.6,733.2L614.5,733.6L616.3,734.1L618.0,735.0L619.5,736.0L621.0,737.3L622.3,738.8L623.6,740.4L624.7,742.1L625.8,743.9L626.9,745.8L627.8,747.7L628.8,749.6L629.8,751.5L630.7,753.3L631.7,755.1L632.7,756.8L633.7,758.4L634.7,760.0L635.8,761.7L636.8,763.3L637.9,764.9L639.0,766.6L640.2,768.2L641.4,769.8L642.6,771.5L643.8,773.1L645.1,774.6L646.4,776.2L647.7,777.7L649.1,779.2L650.5,780.6L652.0,781.9L653.5,783.2L655.0,784.5L656.6,785.6L658.3,786.7L660.0,787.8L661.7,788.7L663.4,789.6L665.2,790.5L667.1,791.2L668.9,792.0L670.8,792.7L672.7,793.4L674.6,794.0L676.5,794.6L678.4,795.2L680.4,795.8L682.3,796.3L684.2,796.9L686.2,797.4L688.1,798.0L690.1,798.5L692.0,799.0L693.9,799.6L695.9,800.1L697.8,800.6L699.7,801.1L701.7,801.6L703.6,802.1L705.6,802.6L707.5,803.0L709.5,803.5L711.4,803.9L713.3,804.4L715.3,804.8L717.2,805.2L719.2,805.6L721.2,805.9L723.1,806.3L725.1,806.6L727.0,806.9L729.0,807.2L731.0,807.5L733.0,807.8L734.9,808.0L736.9,808.3L738.9,808.5L740.9,808.7L742.8,808.9L744.8,809.0L746.8,809.2L748.8,809.3L750.8,809.4L752.8,809.5L754.8,809.5L756.8,809.6L758.8,809.6L760.8,809.6L762.7,809.6L764.7,809.6L766.7,809.5L768.7,809.5L770.7,809.4L772.7,809.2L774.7,809.1L776.7,809.0L778.7,808.8L780.7,808.6L782.7,808.4L784.7,808.2L786.7,808.0L788.7,807.8L790.7,807.7L792.7,807.5L794.7,807.4L796.6,807.3L798.6,807.2L800.6,807.1L802.6,807.1L804.6,807.2L806.6,807.2L808.6,807.4L810.6,807.6L812.6,807.9L814.6,808.2L816.6,808.6L818.6,809.0L820.5,809.5L822.5,809.9L824.5,810.2L826.5,810.4L828.4,810.5L830.4,810.4L832.3,810.2L834.3,809.8L836.2,809.4L838.1,808.9L840.1,808.3L842.0,807.6L843.9,807.0L845.9,806.3L847.8,805.5L849.7,804.8L851.7,804.1L853.6,803.5L855.5,802.9L857.5,802.3L859.4,801.9L861.4,801.5L863.4,801.1L865.3,800.8L867.3,800.6L869.3,800.3L871.3,800.1L873.2,799.8L875.2,799.5L877.1,799.1L879.1,798.7L881.0,798.2L882.9,797.7L884.8,797.1L886.8,796.5L888.7,795.9L890.5,795.2L892.4,794.5L894.3,793.7L896.2,793.0L898.1,792.2L900.0,791.4L901.8,790.6L903.7,789.9L905.6,789.1L907.5,788.4L909.3,787.7L911.2,787.0L913.1,786.3L915.0,785.7L916.8,785.1L918.7,784.6L920.6,784.2L922.5,783.8L924.5,783.6L926.4,783.4L928.3,783.4L930.2,783.4L932.2,783.5L934.1,783.7L936.1,784.0L938.0,784.3L940.0,784.7L941.9,785.1L943.9,785.7L945.9,786.2L947.8,786.8L949.8,787.4L951.7,788.1L953.7,788.8L955.6,789.5L957.6,790.2L959.5,791.0L961.4,791.7L963.4,792.4L965.3,793.2L967.2,793.9L969.1,794.6L971.0,795.3L972.8,795.9L974.7,796.5L976.6,797.1L978.4,797.7L980.3,798.3L982.1,798.8L984.0,799.3L985.8,799.9L987.7,800.4L989.5,800.9L991.4,801.4L993.3,801.9L995.2,802.5L997.1,803.0L999.1,803.6L1001.0,804.2L1003.0,804.7L1005.0,805.3L1007.1,805.9L1009.1,806.5L1011.1,807.1L1013.2,807.7L1015.2,808.2L1017.2,808.6L1019.3,809.0L1021.2,809.3L1023.2,809.5L1025.2,809.6L1027.1,809.6L1028.9,809.5L1030.8,809.2L1032.6,808.8L1034.3,808.3L1036.0,807.6L1037.6,806.9L1039.2,806.0L1040.8,805.0L1042.3,803.9L1043.8,802.7L1045.3,801.4L1046.7,800.1L1048.0,798.6L1049.4,797.1L1050.6,795.5L1051.9,793.9L1053.1,792.2L1054.3,790.5L1055.4,788.7L1056.6,786.9L1057.6,785.0L1058.7,783.2L1059.7,781.3L1060.7,779.4L1061.6,777.5L1062.6,775.6L1063.5,773.7L1064.3,771.8L1065.2,769.9L1066.0,768.0L1066.8,766.1L1067.6,764.2L1068.3,762.4L1069.0,760.5L1069.8,758.6L1070.5,756.8L1071.2,754.9L1071.9,753.1L1072.6,751.2L1073.2,749.4L1073.9,747.6L1074.6,745.7L1075.3,743.9L1075.9,742.1L1076.6,740.3L1077.3,738.5L1078.0,736.7L1078.7,734.9L1079.4,733.1L1080.1,731.3L1080.9,729.5L1081.6,727.7L1082.4,725.9L1083.2,724.1L1084.0,722.3L1084.9,720.5L1085.7,718.8L1086.6,717.0L1087.5,715.2L1088.5,713.4L1089.5,711.7L1090.5,709.9L1091.6,708.1L1092.7,706.4L1093.8,704.6L1095.0,702.8L1096.2,701.1L1097.5,699.4L1098.8,697.8L1100.2,696.3L1101.6,695.0L1103.1,693.9L1104.6,693.0L1106.2,692.5L1107.8,692.3L1109.5,692.5L1111.3,693.1L1113.1,694.1L1114.9,695.5L1116.7,697.0L1118.4,698.7L1119.9,700.4L1121.3,702.2L1122.6,703.9L1123.9,705.7L1125.0,707.4L1126.2,709.2L1127.3,710.9L1128.4,712.5L1129.6,714.1L1130.8,715.6L1132.2,717.1L1133.7,718.4L1135.2,719.6L1136.9,720.7L1138.6,721.7L1140.5,722.5L1142.3,723.2L1144.2,723.8L1146.1,724.1L1148.0,724.4L1149.9,724.4L1151.8,724.3L1153.7,724.0L1155.5,723.4L1157.3,722.7L1159.0,721.8L1160.7,720.7L1162.3,719.4L1163.8,718.0L1165.4,716.5L1166.9,715.0L1168.4,713.4L1169.9,711.8L1171.4,710.3L1173.0,708.8L1174.5,707.3L1176.1,706.0L1177.8,704.8L1179.4,703.7L1181.1,702.7L1182.9,701.9L1184.6,701.1L1186.4,700.3L1188.2,699.5L1190.0,698.8L1191.8,698.0L1193.6,697.1L1195.4,696.2L1197.1,695.3L1198.9,694.4L1200.6,693.4L1202.3,692.3L1204.0,691.2L1205.7,690.1L1207.3,689.0L1208.9,687.8L1210.5,686.5L1212.0,685.2L1213.5,683.9L1214.9,682.5L1216.3,681.1L1217.6,679.7L1218.9,678.2L1220.1,676.7L1221.3,675.1L1222.4,673.5L1223.4,671.8L1224.4,670.1L1225.4,668.4L1226.2,666.7L1227.1,664.9L1227.9,663.1L1228.7,661.3L1229.4,659.4L1230.1,657.5L1230.8,655.6L1231.4,653.7L1232.0,651.8L1232.6,649.9L1233.2,647.9L1233.7,646.0L1234.2,644.0L1234.8,642.0L1235.3,640.1L1235.8,638.1L1236.3,636.1L1236.8,634.1L1237.3,632.2L1237.7,630.2L1238.2,628.2L1238.7,626.3L1239.1,624.3L1239.6,622.3L1240.0,620.3L1240.5,618.4L1240.9,616.4L1241.3,614.4L1241.8,612.5L1242.2,610.5L1242.6,608.5L1243.1,606.6L1243.5,604.6L1243.9,602.7L1244.3,600.7L1244.7,598.7L1245.1,596.8L1245.5,594.8L1245.9,592.9L1246.3,590.9L1246.7,589.0L1247.2,587.0L1247.6,585.1L1248.0,583.1L1248.4,581.2L1248.8,579.2L1249.2,577.3L1249.6,575.3L1250.0,573.4L1250.4,571.5L1250.8,569.5L1251.2,567.6L1251.6,565.7L1252.1,563.8L1252.5,561.8L1252.9,559.9L1253.3,558.0L1253.8,556.1L1254.2,554.2L1254.6,552.3L1255.1,550.4L1255.5,548.5L1256.0,546.6L1256.4,544.7L1256.9,542.8L1257.3,540.8L1257.8,538.9L1258.3,537.0L1258.7,535.0L1259.2,533.0L1259.6,531.0L1260.0,529.0L1260.5,526.9L1260.9,524.8L1261.3,522.7L1261.7,520.5L1262.1,518.3L1262.5,516.0L1262.9,513.8L1263.4,511.5L1263.9,509.3L1264.5,507.1L1265.2,505.2L1266.1,503.7L1267.3,502.7L1268.7,502.5L1270.3,503.0L1272.0,504.0L1273.7,505.4L1275.3,506.9L1276.7,508.4L1277.9,510.1L1278.9,511.8L1279.8,513.6L1280.6,515.4L1281.2,517.3L1281.7,519.2L1282.2,521.2L1282.5,523.2L1282.8,525.2L1283.1,527.2L1283.3,529.3L1283.5,531.4L1283.6,533.4L1283.8,535.5L1283.9,537.6L1284.1,539.6L1284.3,541.6L1284.5,543.6L1284.7,545.6L1285.0,547.6L1285.2,549.6L1285.5,551.6L1285.8,553.6L1286.1,555.5L1286.3,557.5L1286.6,559.4L1287.0,561.4L1287.3,563.3L1287.6,565.3L1287.9,567.2L1288.2,569.2L1288.5,571.1L1288.8,573.0L1289.1,575.0L1289.4,576.9L1289.7,578.9L1290.0,580.9L1290.3,582.8L1290.6,584.8L1290.9,586.8L1291.2,588.7L1291.5,590.7L1291.7,592.7L1292.0,594.7L1292.3,596.6L1292.5,598.6L1292.8,600.6L1293.0,602.6L1293.3,604.6L1293.5,606.6L1293.8,608.6L1294.0,610.6L1294.3,612.6L1294.5,614.6L1294.7,616.6L1295.0,618.6L1295.2,620.6L1295.4,622.6L1295.7,624.6L1295.9,626.6L1296.1,628.6L1296.4,630.6L1296.6,632.6L1296.8,634.6L1297.1,636.6L1297.3,638.6L1297.5,640.6L1297.7,642.6L1298.0,644.6L1298.2,646.6L1298.4,648.6L1298.6,650.6L1298.9,652.6L1299.1,654.6L1299.3,656.6L1299.6,658.6L1299.8,660.6L1300.0,662.6L1300.3,664.6L1300.5,666.6L1300.8,668.5L1301.0,670.5L1301.2,672.5L1301.5,674.5L1301.7,676.5L1302.0,678.4L1302.3,680.4L1302.5,682.4L1302.8,684.3L1303.0,686.3L1303.3,688.3L1303.6,690.2L1303.9,692.2L1304.1,694.1L1304.4,696.1L1304.7,698.0L1305.0,699.9L1305.3,701.9L1305.6,703.8L1306.0,705.8L1306.3,707.7L1306.6,709.6L1307.0,711.6L1307.3,713.5L1307.7,715.4L1308.1,717.4L1308.5,719.3L1308.9,721.2L1309.3,723.2L1309.8,725.1L1310.2,727.1L1310.7,729.0L1311.2,731.0L1311.7,733.0L1312.2,734.9L1312.7,736.9L1313.3,738.9L1313.9,740.8L1314.5,742.8L1315.1,744.8L1315.7,746.8L1316.4,748.8L1317.1,750.8L1317.8,752.8L1318.5,754.9L1319.3,756.8L1320.1,758.8L1321.0,760.7L1321.8,762.6L1322.8,764.5L1323.8,766.2L1324.8,767.9L1325.9,769.5L1327.0,771.0L1328.3,772.4L1329.6,773.7L1330.9,774.9L1332.3,775.9L1333.9,776.8L1335.5,777.5L1337.1,778.1L1338.9,778.5L1340.8,778.7L1342.7,778.8L1344.7,778.7L1346.8,778.5L1348.9,778.2L1351.0,777.9L1353.2,777.6L1355.3,777.2L1357.5,776.8L1359.6,776.4L1361.8,776.1L1363.9,775.9L1365.9,775.7L1367.9,775.7L1369.9,775.7L1371.8,775.7L1373.8,775.8L1375.7,775.9L1377.6,776.0L1379.5,776.2L1381.4,776.3L1383.3,776.5L1385.3,776.6L1387.2,776.8L1389.1,776.9L1391.1,777.0L1393.1,777.1L1395.0,777.2L1397.0,777.3L1399.0,777.4L1401.0,777.5L1402.9,777.5L1404.9,777.6L1406.9,777.7L1408.9,777.7L1410.9,777.7L1412.9,777.7L1415.0,777.8L1417.0,777.8L1419.0,777.7L1421.0,777.7L1423.0,777.7L1425.0,777.7L1427.0,777.6L1429.1,777.5L1431.1,777.5L1433.1,777.4L1435.1,777.3L1437.1,777.2L1439.1,777.0L1441.1,776.9L1443.1,776.7L1445.1,776.6L1447.1,776.4L1449.1,776.2L1451.1,776.0L1453.1,775.8L1455.1,775.6L1457.1,775.4L1459.0,775.2L1461.0,775.0L1463.0,774.8L1465.0,774.6L1467.0,774.4L1468.9,774.1L1470.9,773.9L1472.9,773.7L1474.9,773.5L1476.8,773.3L1478.8,773.1L1480.8,773.0L1482.8,772.8L1484.7,772.6L1486.7,772.5L1488.7,772.4L1490.7,772.3L1492.6,772.2L1494.6,772.1L1496.6,772.0L1498.6,772.0L1500.6,771.9L1502.6,771.9L1504.6,772.0L1506.5,772.0L1508.5,772.1L1510.5,772.2L1512.5,772.3L1514.5,772.4L1516.5,772.6L1518.5,772.8L1520.5,773.1L1522.5,773.3L1524.5,773.7L1526.5,774.0L1528.5,774.4L1530.5,774.8L1532.5,775.3L1534.4,775.8L1536.4,776.3L1538.4,776.9L1540.4,777.5L1542.3,778.2L1544.3,778.9L1546.2,779.7L1548.2,780.4L1550.1,781.2L1552.1,782.0L1554.0,782.7L1555.9,783.5L1557.9,784.1L1559.8,784.8L1561.7,785.3L1563.6,785.8L1565.5,786.1L1567.4,786.4L1569.3,786.5L1571.2,786.6L1573.1,786.4L1575.0,786.2L1576.8,785.8L1578.7,785.3L1580.6,784.8L1582.5,784.1L1584.3,783.5L1586.2,782.8L1588.1,782.0L1590.0,781.3L1591.9,780.6L1593.8,779.9L1595.7,779.2L1597.6,778.6L1599.5,778.0L1601.4,777.5L1603.4,777.2L1605.3,776.9L1607.3,776.7L1609.2,776.6L1611.2,776.5L1613.2,776.5L1615.2,776.6L1617.2,776.7L1619.2,776.9L1621.2,777.1L1623.2,777.3L1625.2,777.6L1627.2,777.9L1629.2,778.2L1631.2,778.5L1633.2,778.8L1635.2,779.1L1637.2,779.5L1639.1,779.8L1641.1,780.2L1643.1,780.5L1645.1,780.9L1647.1,781.3L1649.1,781.6L1651.1,781.9L1653.1,782.3L1655.1,782.6L1657.1,782.9L1659.1,783.2L1661.1,783.5L1663.0,783.8L1665.0,784.0L1667.0,784.3L1669.0,784.5L1671.0,784.6L1672.9,784.8L1674.9,784.9L1676.9,785.0L1678.8,785.1L1680.8,785.1L1682.8,785.1L1684.7,785.0L1686.7,784.9L1688.7,784.8L1690.6,784.6L1692.6,784.3L1694.5,784.1L1696.5,783.7L1698.4,783.4L1700.4,783.0L1702.3,782.5L1704.3,782.0L1706.2,781.6L1708.1,781.1L1710.1,780.6L1712.0,780.1L1714.0,779.5L1715.9,779.1L1717.8,778.6L1719.8,778.1L1721.7,777.7L1723.7,777.3L1725.6,776.9L1727.6,776.6L1729.5,776.3L1731.4,776.1L1733.4,776.0L1735.4,775.9L1737.3,775.9L1739.3,775.9L1741.2,776.1L1743.2,776.3L1745.2,776.6L1747.2,777.0L1749.1,777.5L1751.1,778.1L1753.1,778.6L1755.1,779.2L1757.1,779.8L1759.1,780.3L1761.1,780.8L1763.0,781.2L1765.0,781.6L1767.0,781.8L1769.0,781.9L1771.0,782.0L1773.0,781.9L1775.0,781.8L1777.0,781.6L1779.0,781.4L1781.0,781.1L1783.0,780.8L1785.0,780.5L1787.0,780.2L1789.0,779.9L1791.0,779.6L1793.0,779.3L1795.0,779.0L1797.0,778.8L1799.0,778.7L1801.0,778.6L1803.0,778.7L1805.0,778.8L1807.0,779.0L1809.0,779.3L1811.0,779.8L1813.0,780.4"/>
</g>
<g stroke="#000" stroke-width="4.6">
<line x1="272.25" y1="1402" x2="272.25" y2="1388.0"/><line x1="412.50" y1="1402" x2="412.50" y2="1375.0"/><line x1="552.75" y1="1402" x2="552.75" y2="1388.0"/><line x1="693.00" y1="1402" x2="693.00" y2="1375.0"/><line x1="833.25" y1="1402" x2="833.25" y2="1388.0"/><line x1="973.50" y1="1402" x2="973.50" y2="1375.0"/><line x1="1113.75" y1="1402" x2="1113.75" y2="1388.0"/><line x1="1254.00" y1="1402" x2="1254.00" y2="1375.0"/><line x1="1394.25" y1="1402" x2="1394.25" y2="1388.0"/><line x1="1534.50" y1="1402" x2="1534.50" y2="1375.0"/><line x1="1674.75" y1="1402" x2="1674.75" y2="1388.0"/>
</g>
<rect x="131.4" y="45.1" width="1683.4" height="1356.9" fill="none" stroke="#000" stroke-width="5"/>
<g font-size="61.5">
<text transform="translate(132.00,1477) scale(0.963,1)" text-anchor="middle">1400</text><text transform="translate(412.50,1477) scale(0.963,1)" text-anchor="middle">1450</text><text transform="translate(693.00,1477) scale(0.963,1)" text-anchor="middle">1500</text><text transform="translate(973.50,1477) scale(0.963,1)" text-anchor="middle">1550</text><text transform="translate(1254.00,1477) scale(0.963,1)" text-anchor="middle">1600</text><text transform="translate(1534.50,1477) scale(0.963,1)" text-anchor="middle">1650</text><text transform="translate(1815.00,1477) scale(0.963,1)" text-anchor="middle">1700</text>
</g>
<g font-size="81">
<text font-size="82.5" transform="translate(356.7,199.5) scale(0.982,1)">L</text>
<text transform="translate(504.8,324.7) scale(0.972,1)">L</text>
<text transform="translate(580,328.1) scale(0.972,1)" text-anchor="middle" style="font-weight:normal" font-size="90">+</text>
<text transform="translate(602,324.7) scale(0.972,1)">B</text>
<text transform="translate(825.3,324.7) scale(0.972,1)">B</text>
<text transform="translate(1260.8,361.9) scale(1,1)">L</text>
</g>
<g stroke-width="6.5" stroke-linecap="round">
<line x1="1330" y1="163.9" x2="1461" y2="163.9" stroke="#555555"/>
<line x1="1330" y1="237.5" x2="1461" y2="237.5" stroke="#F93E40"/>
<line x1="1330" y1="310.5" x2="1461" y2="310.5" stroke="#1971E6"/>
</g>
<g font-size="60">
<text transform="translate(1475.5,183) scale(0.963,1)">AlOOH</text>
<text transform="translate(1475.5,255.8) scale(0.963,1)">FeOOH</text>
<text transform="translate(1475.5,328.8) scale(0.963,1)">AF-1/9</text>
</g>
<g font-size="74">
<text transform="translate(669,1595.5) scale(0.955,1)">Wavenumber</text>
<text font-size="70" transform="translate(1094.5,1595.5) scale(1.1,1)">(</text>
<text transform="translate(1118.7,1595.5) scale(0.963,1)">cm</text>
<text font-size="50" transform="translate(1208.3,1566.7) scale(0.963,1)">&#8211;</text>
<text font-size="50" transform="translate(1232.45,1566.7) scale(0.963,1)">1</text>
<text font-size="70" transform="translate(1254.7,1595.5) scale(1.1,1)">)</text>
</g>
<text font-size="70.5" transform="translate(74,723) scale(0.963,1) rotate(-90)" text-anchor="middle">absorbance (a.u.)</text>
</svg>
</body></html>
